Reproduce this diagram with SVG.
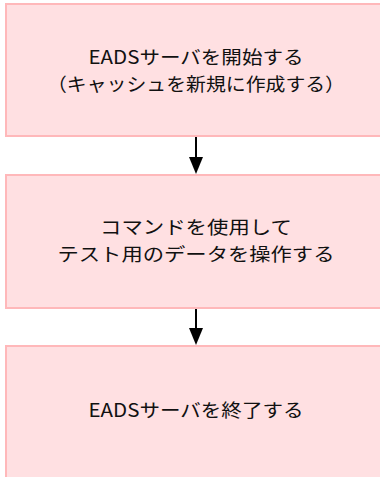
<svg xmlns="http://www.w3.org/2000/svg" width="380" height="477" viewBox="0 0 380 477">
<style>
.box{fill:#FFE0E2;stroke:#FFB8BA;stroke-width:2}
.t{font-family:"Noto Sans CJK JP","Noto Sans",sans-serif;font-size:18.5px;fill:#111;text-anchor:middle}
.c{stroke:#000;stroke-width:2;fill:none}
</style>
<g id="node1">
<rect class="box" x="6" y="4" width="380" height="132"/>
<text class="t" x="196" y="64" textLength="215" lengthAdjust="spacingAndGlyphs">EADSサーバを開始する</text>
<text class="t" x="196" y="91" textLength="298" lengthAdjust="spacingAndGlyphs">（キャッシュを新規に作成する）</text>
</g>
<g id="node2">
<rect class="box" x="6" y="175" width="380" height="133"/>
<text class="t" x="196" y="234" textLength="192" lengthAdjust="spacingAndGlyphs">コマンドを使用して</text>
<text class="t" x="196" y="261" textLength="277" lengthAdjust="spacingAndGlyphs">テスト用のデータを操作する</text>
</g>
<g id="node3">
<rect class="box" x="6" y="346" width="380" height="140"/>
<text class="t" x="196" y="417" textLength="215" lengthAdjust="spacingAndGlyphs">EADSサーバを終了する</text>
</g>
<g id="connectors">
<line class="c" x1="196" y1="137" x2="196" y2="158"/>
<path d="M189,157 L203,157 L196,174 Z" fill="#000"/>
<line class="c" x1="196" y1="309" x2="196" y2="329"/>
<path d="M189,328 L203,328 L196,345 Z" fill="#000"/>
</g>
</svg>
